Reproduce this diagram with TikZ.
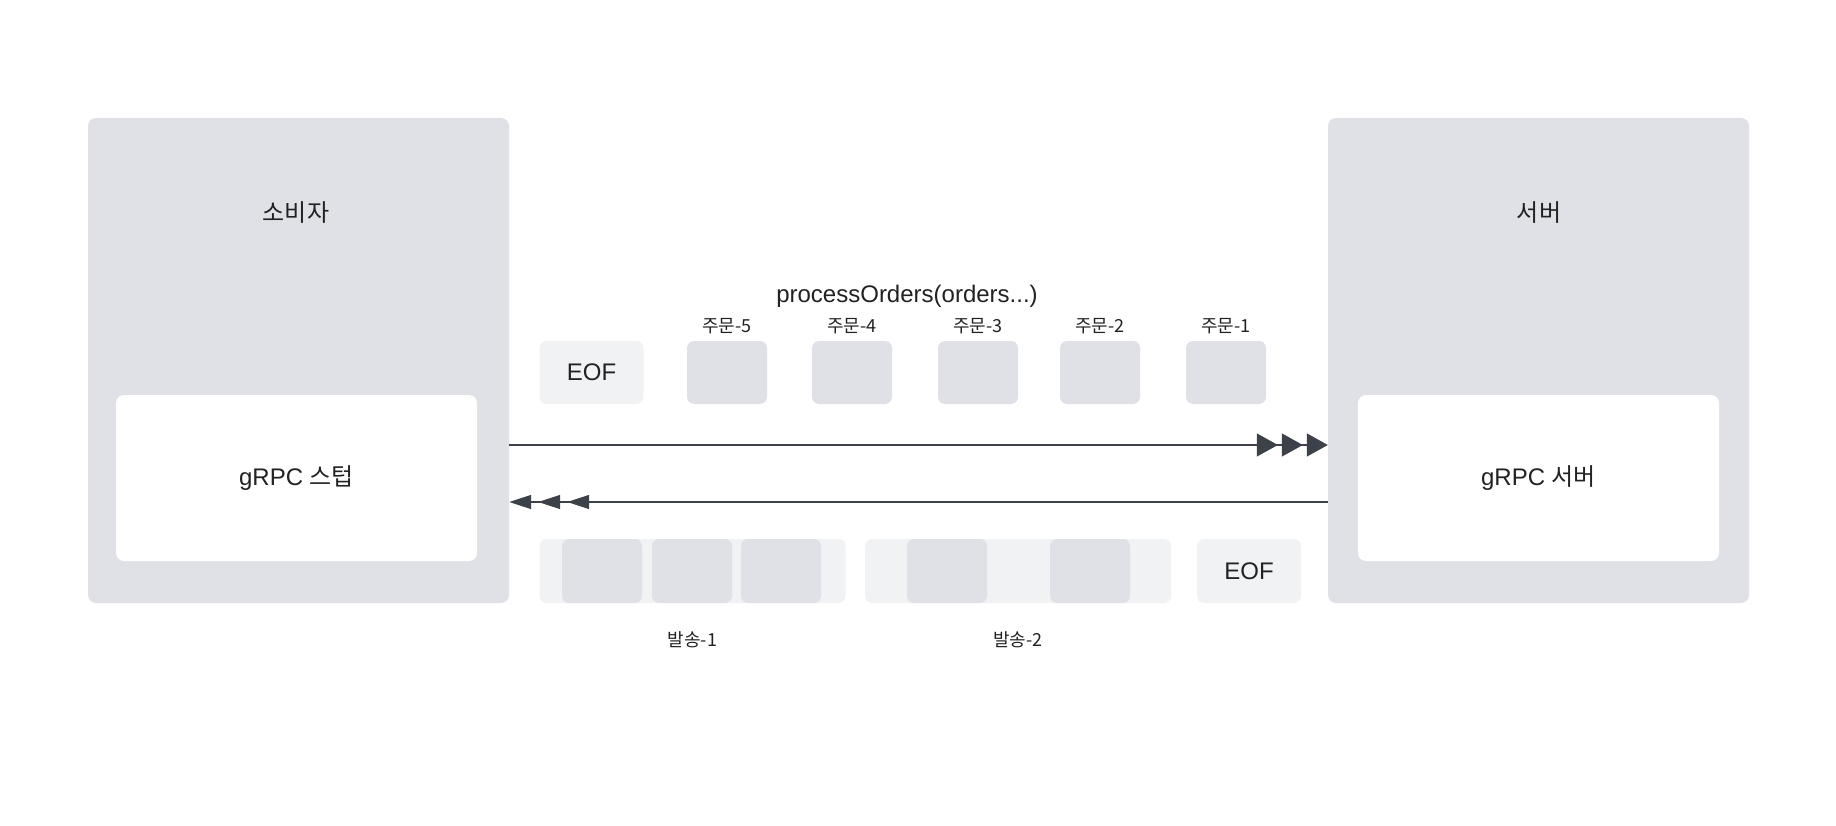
\documentclass[tikz,border=0pt]{standalone}
\usepackage{fontspec}
\setmainfont{Liberation Sans}
\newfontfamily\kr{Noto Sans CJK KR}
\usepackage{xcolor}
\usetikzlibrary{arrows.meta, positioning}

\definecolor{boxgray}{HTML}{DFE1E6}
\definecolor{lightgray}{HTML}{F1F2F4}
\definecolor{linegray}{HTML}{3D424A}
\definecolor{textgray}{HTML}{222222}

\begin{document}
\begin{tikzpicture}[
    x=1pt, y=-1pt,
    party/.style={fill=boxgray, rounded corners=8pt, minimum width=421pt, minimum height=485pt, inner sep=0pt},
    stub/.style={fill=white, rounded corners=8pt, minimum width=361pt, minimum height=166pt, inner sep=0pt, font=\fontsize{24}{28}\selectfont, text=textgray},
    head/.style={font=\fontsize{24}{28}\selectfont\kr, text=textgray},
    msg/.style={fill=boxgray, rounded corners=7pt, minimum width=80pt, minimum height=63pt, inner sep=0pt},
    eof/.style={fill=lightgray, rounded corners=7pt, minimum width=104pt, minimum height=63pt, inner sep=0pt, font=\fontsize{24}{28}\selectfont, text=textgray},
    batch/.style={fill=lightgray, rounded corners=7pt, minimum width=306pt, minimum height=64pt, inner sep=0pt},
    tag/.style={font=\fontsize{18}{20}\selectfont\kr, text=textgray, inner sep=2pt},
    send/.style={draw=linegray, line width=1.4pt, -{Triangle[length=21pt,width=23pt,sep=4pt]Triangle[length=21pt,width=23pt,sep=4pt]Triangle[length=21pt,width=23pt]}},
    reply/.style={draw=linegray, line width=1.4pt, -{Triangle[length=22pt,width=14pt,sep=7pt]Triangle[length=22pt,width=14pt,sep=7pt]Triangle[length=22pt,width=14pt]}}
]
\useasboundingbox (0,0) rectangle (1836,826);

% Consumer
\node[party] (consumer) at (298.5,360.5) {};
\node[head] (consumer-title) at (296,213) {소비자};
\node[stub] (consumer-stub) at (296.5,478) {\raisebox{3pt}{gRPC {\kr 스텁}}};

% Server
\node[party] (server) at (1538.5,360.5) {};
\node[head] (server-title) at (1539,213) {서버};
\node[stub] (server-stub) at (1538.5,478) {\raisebox{3pt}{gRPC {\kr 서버}}};

% Request stream
\node[font=\fontsize{24}{28}\selectfont, text=textgray] (call) at (907,296) {processOrders(orders...)};
\node[eof] (eof-in) at (591.5,372.5) {EOF};
\node[msg] (o5) at (727,372.5) {};
\node[msg] (o4) at (852,372.5) {};
\node[msg] (o3) at (978,372.5) {};
\node[msg] (o2) at (1100,372.5) {};
\node[msg] (o1) at (1226,372.5) {};
\node[tag, above=5pt of o5] (o5-tag) {주문-5};
\node[tag, above=5pt of o4] (o4-tag) {주문-4};
\node[tag, above=5pt of o3] (o3-tag) {주문-3};
\node[tag, above=5pt of o2] (o2-tag) {주문-2};
\node[tag, above=5pt of o1] (o1-tag) {주문-1};

% Response stream
\node[batch] (b1) at (692.5,571) {};
\node[msg, minimum height=64pt] (b1-r1) at (602,571) {};
\node[msg, minimum height=64pt] (b1-r2) at (692,571) {};
\node[msg, minimum height=64pt] (b1-r3) at (781,571) {};
\node[batch] (b2) at (1018,571) {};
\node[msg, minimum height=64pt] (b2-r1) at (947,571) {};
\node[msg, minimum height=64pt] (b2-r2) at (1090,571) {};
\node[eof, minimum height=64pt] (eof-out) at (1249,571) {EOF};
\node[tag, below=26pt of b1] (b1-tag) {발송-1};
\node[tag, below=26pt of b2] (b2-tag) {발송-2};

% Arrows
\coordinate (req) at (0,445);
\coordinate (res) at (0,502);
\draw[send] (consumer.east |- req) -- (server.west |- req);
\draw[reply] (server.west |- res) -- (consumer.east |- res);

\end{tikzpicture}
\end{document}
